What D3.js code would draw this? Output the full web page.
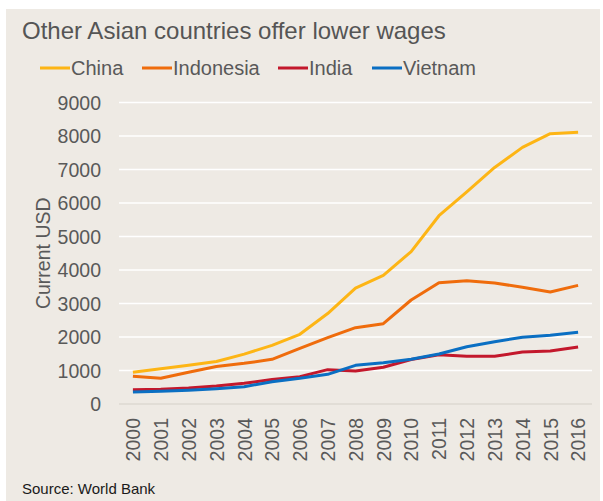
<!DOCTYPE html>
<html>
<head>
<meta charset="utf-8">
<script src="https://cdn.jsdelivr.net/npm/d3@7/dist/d3.min.js"></script>
<style>
  html, body { margin: 0; padding: 0; background: #ffffff; }
  svg { display: block; }
  text { font-family: "Liberation Sans", Arial, sans-serif; }
</style>
</head>
<body>
<svg id="chart" width="603" height="501"></svg>
<script>
// Average annual wages, current USD (World Bank)
const years = ["2000","2001","2002","2003","2004","2005","2006","2007","2008",
               "2009","2010","2011","2012","2013","2014","2015","2016"];
const china     = [946, 1050, 1160, 1270, 1490, 1750, 2080, 2700, 3460, 3840, 4550, 5620, 6330, 7060, 7660, 8070, 8110];
const indonesia = [830, 767, 950, 1120, 1214, 1333, 1662, 1980, 2278, 2398, 3104, 3622, 3681, 3612, 3483, 3343, 3542];
const india     = [425, 440, 478, 537, 617, 730, 816, 1025, 985, 1095, 1330, 1470, 1423, 1423, 1552, 1582, 1701];
const vietnam   = [358, 380, 410, 458, 517, 667, 766, 886, 1154, 1234, 1333, 1492, 1711, 1861, 1990, 2050, 2140];
const seriesNames  = ["China", "Indonesia", "India", "Vietnam"];
const seriesColors = ["#fdb515", "#ef6c0c", "#c3182c", "#0a6fc3"];
const yTicks = [0, 1000, 2000, 3000, 4000, 5000, 6000, 7000, 8000, 9000];

const series = [china, indonesia, india, vietnam];
const svg = d3.select("#chart");

// beige panel
svg.append("rect")
  .attr("x", 6).attr("y", 9)
  .attr("width", 594).attr("height", 492)
  .attr("fill", "#eeeae4");

const x = d3.scalePoint().domain(years).range([119, 592]).padding(0.5);
const y = d3.scaleLinear().domain([0, 9000]).range([404, 102.5]);

// horizontal gridlines
svg.append("g")
  .selectAll("line")
  .data(yTicks.filter(d => d > 0))
  .join("line")
  .attr("x1", 119).attr("x2", 592)
  .attr("y1", d => y(d)).attr("y2", d => y(d))
  .attr("stroke", "#ffffff")
  .attr("stroke-width", 1.6);

// zero line
svg.append("line")
  .attr("x1", 119).attr("x2", 592)
  .attr("y1", y(0)).attr("y2", y(0))
  .attr("stroke", "#dcd8d2")
  .attr("stroke-width", 1.6);

// y axis labels
const yAxis = d3.axisLeft(y).tickValues(yTicks).tickSize(0).tickPadding(0)
  .tickFormat(d3.format("d"));
svg.append("g")
  .attr("transform", "translate(101,0)")
  .call(yAxis)
  .call(g => g.select(".domain").remove())
  .call(g => g.selectAll("text")
    .attr("font-family", "'Liberation Sans', Arial, sans-serif")
    .attr("font-size", "19.5px")
    .attr("fill", "#595959")
    .attr("dy", "0.35em"));

// x axis labels (rotated)
const xAxis = d3.axisBottom(x).tickSize(0).tickPadding(0);
svg.append("g")
  .attr("transform", `translate(0,${y(0)})`)
  .call(xAxis)
  .call(g => g.select(".domain").remove())
  .call(g => g.selectAll("text")
    .attr("font-family", "'Liberation Sans', Arial, sans-serif")
    .attr("font-size", "19.5px")
    .attr("fill", "#595959")
    .attr("text-anchor", "end")
    .attr("transform", "rotate(-90)")
    .attr("x", -14)
    .attr("y", 0)
    .attr("dy", "0.35em"));

// y axis title
svg.append("text")
  .attr("transform", `translate(50,${(y(0) + y(9000)) / 2}) rotate(-90)`)
  .attr("text-anchor", "middle")
  .attr("font-size", "19.5px")
  .attr("fill", "#595959")
  .text("Current USD");

// lines
const line = d3.line()
  .x((d, i) => x(years[i]))
  .y(d => y(d));

svg.append("g")
  .selectAll("path")
  .data(series)
  .join("path")
  .attr("d", d => line(d))
  .attr("fill", "none")
  .attr("stroke", (d, i) => seriesColors[i])
  .attr("stroke-width", 3)
  .attr("stroke-linejoin", "round");

// title
svg.append("text")
  .attr("x", 22).attr("y", 39)
  .attr("font-size", "24px")
  .attr("fill", "#555555")
  .text("Other Asian countries offer lower wages");

// legend
const legendX = [40, 142, 278, 372];
const legend = svg.append("g");
seriesNames.forEach((name, i) => {
  legend.append("line")
    .attr("x1", legendX[i]).attr("x2", legendX[i] + 30)
    .attr("y1", 68).attr("y2", 68)
    .attr("stroke", seriesColors[i])
    .attr("stroke-width", 3);
  legend.append("text")
    .attr("x", legendX[i] + 31).attr("y", 75)
    .attr("font-size", "20px")
    .attr("fill", "#595959")
    .text(name);
});

// source
svg.append("text")
  .attr("x", 22).attr("y", 494)
  .attr("font-size", "15px")
  .attr("fill", "#1a1a1a")
  .text("Source: World Bank");
</script>
</body>
</html>
